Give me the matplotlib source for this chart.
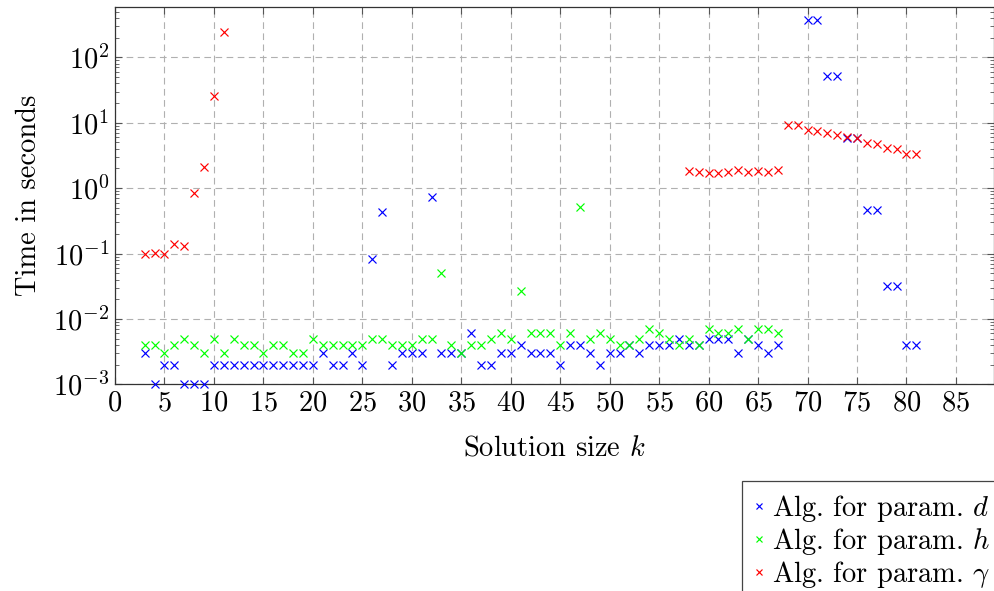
import matplotlib
matplotlib.use("Agg")
import matplotlib.pyplot as plt
from matplotlib.ticker import FixedLocator, LogLocator, NullFormatter

plt.rcParams['font.family'] = ['cmr10', 'DejaVu Serif']
plt.rcParams['mathtext.fontset'] = 'cm'
plt.rcParams['axes.formatter.use_mathtext'] = True

# Alg. for param. d
k_d = list(range(3, 68)) + list(range(70, 82))
t_d = [0.003, 0.001, 0.002, 0.002, 0.001, 0.001, 0.001,
       0.002, 0.002, 0.002, 0.002, 0.002, 0.002, 0.002, 0.002, 0.002, 0.002, 0.002,
       0.003, 0.002, 0.002, 0.003, 0.002, 0.082, 0.43, 0.002, 0.003, 0.003, 0.003,
       0.73, 0.003, 0.003, 0.003, 0.006, 0.002, 0.002, 0.003, 0.003, 0.004,
       0.003, 0.003, 0.003, 0.002, 0.004, 0.004, 0.003, 0.002, 0.003, 0.003,
       0.004, 0.003, 0.004, 0.004, 0.004, 0.005, 0.004, 0.004, 0.005, 0.005,
       0.005, 0.003, 0.005, 0.004, 0.003, 0.004,
       370, 370, 51, 51, 5.8, 5.8, 0.46, 0.46, 0.032, 0.032, 0.004, 0.004]

# Alg. for param. h
k_h = list(range(3, 68))
t_h = [0.004, 0.004, 0.003, 0.004, 0.005, 0.004, 0.003, 0.005, 0.003, 0.005,
       0.004, 0.004, 0.003, 0.004, 0.004, 0.003, 0.003, 0.005, 0.004, 0.004,
       0.004, 0.004, 0.004, 0.005, 0.005, 0.004, 0.004, 0.004, 0.005, 0.005,
       0.051, 0.004, 0.003, 0.004, 0.004, 0.005, 0.006, 0.005, 0.027, 0.006,
       0.006, 0.006, 0.004, 0.006, 0.51, 0.005, 0.006, 0.005, 0.004, 0.004,
       0.005, 0.007, 0.006, 0.005, 0.004, 0.005, 0.004, 0.007, 0.006, 0.006,
       0.007, 0.005, 0.007, 0.007, 0.006]

# Alg. for param. gamma
k_g = list(range(3, 12)) + list(range(58, 82))
t_g = [0.097, 0.103, 0.10, 0.138, 0.132, 0.85, 2.12, 25.9, 246,
       1.82, 1.79, 1.72, 1.72, 1.79, 1.89, 1.79, 1.84, 1.75, 1.89,
       9.2, 9.2, 7.7, 7.5, 6.9, 6.6, 6.1, 5.9, 4.9, 4.8, 4.06, 4.0, 3.3, 3.3]

xticks = list(range(0, 90, 5))
yticks = [1e-3, 1e-2, 1e-1, 1e0, 1e1, 1e2]

fig = plt.figure(figsize=(9.95, 5.91), dpi=100)
ax = fig.add_axes([0.1156, 0.3497, 0.8834, 0.6389])

ms = 5.5
ax.plot(k_d, t_d, 'x', color=(0, 0, 1), ms=ms, mew=0.85, clip_on=False,
        label=r'Alg. for param. $d$', zorder=3)
ax.plot(k_h, t_h, 'x', color=(0, 1, 0), ms=ms, mew=0.85, clip_on=False,
        label=r'Alg. for param. $h$', zorder=3)
ax.plot(k_g, t_g, 'x', color=(1, 0, 0), ms=ms, mew=0.85, clip_on=False,
        label=r'Alg. for param. $\gamma$', zorder=3)

ax.set_yscale('log')
ax.set_xlim(0, 88.85)
ax.set_ylim(1e-3, 594)
ax.xaxis.set_major_locator(FixedLocator(xticks))
ax.yaxis.set_major_locator(FixedLocator(yticks))
ax.yaxis.set_minor_locator(LogLocator(base=10, subs=range(2, 10), numticks=20))
ax.yaxis.set_minor_formatter(NullFormatter())

ax.grid(True, which='major', color='#b0b0b0', linestyle=(0, (6, 4)), linewidth=0.8)
ax.tick_params(which='both', direction='in', top=True, right=True, labelsize=20.5,
               color='#555555')
ax.tick_params(which='major', length=5, pad=4)
ax.tick_params(which='minor', length=3)
for s in ax.spines.values():
    s.set_color('#333333')
    s.set_linewidth(0.9)

ax.set_xlabel(r'Solution size $k$', fontsize=20.5, labelpad=14)
ax.set_ylabel('Time in seconds', fontsize=20.5, labelpad=8)

leg = ax.legend(loc='upper left', bbox_to_anchor=(741.7 / 995, 1 - 480.7 / 591),
                bbox_transform=fig.transFigure, fontsize=20.5, markerscale=0.7,
                handlelength=0.4, handletextpad=0.25, borderpad=0.42,
                labelspacing=0.08, borderaxespad=0, fancybox=False,
                framealpha=1, edgecolor='#444444')
leg.get_frame().set_linewidth(0.9)

fig.savefig('out.png', dpi=100)
